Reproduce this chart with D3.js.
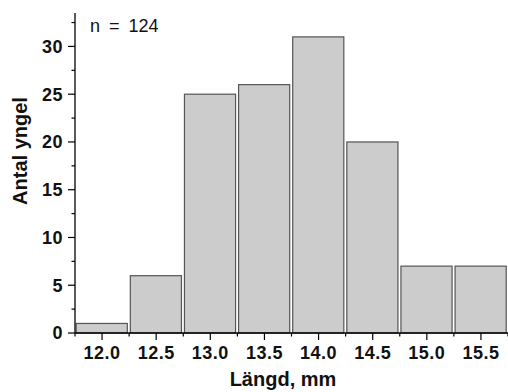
<!DOCTYPE html>
<html>
<head>
<meta charset="utf-8">
<script src="https://cdn.jsdelivr.net/npm/d3@7"></script>
<style>
  html, body { margin: 0; padding: 0; background: #fff; }
  svg { display: block; }
  text { font-family: "Liberation Sans", Arial, sans-serif; }
</style>
</head>
<body>
<svg id="chart" width="508" height="392"></svg>
<script>
// Length classes (mm, bin centres) and number of fry in each class
const lengths = [12.0, 12.5, 13.0, 13.5, 14.0, 14.5, 15.0, 15.5];
const counts  = [1, 6, 25, 26, 31, 20, 7, 7];
const xTickLabels = ["12.0", "12.5", "13.0", "13.5", "14.0", "14.5", "15.0", "15.5"];
const yTickValues = [0, 5, 10, 15, 20, 25, 30];
const sampleLabel = "n = 124";
const xTitle = "Längd, mm";
const yTitle = "Antal yngel";

const binWidth = 0.5;
const svg = d3.select("#chart");

const x = d3.scaleLinear().domain([11.75, 15.75]).range([75, 508]);
const y = d3.scaleLinear().domain([0, 33.5]).range([333, 13]);

const data = lengths.map((l, i) => ({ len: l, n: counts[i] }));

// bars
svg.append("g").selectAll("rect")
  .data(data)
  .join("rect")
  .attr("x", d => x(d.len - binWidth / 2) + 1.2)
  .attr("width", d => x(d.len + binWidth / 2) - x(d.len - binWidth / 2) - 3)
  .attr("y", d => y(d.n))
  .attr("height", d => y(0) - y(d.n))
  .attr("fill", "#cccccc")
  .attr("stroke", "#555555")
  .attr("stroke-width", 1.2);

// y axis with minor ticks
const yAxis = svg.append("g").attr("transform", "translate(75,0)");
yAxis.append("line")
  .attr("x1", 0).attr("x2", 0).attr("y1", y(33.5)).attr("y2", y(0))
  .attr("stroke", "#000").attr("stroke-width", 1.3);
const yMinor = d3.range(2.5, 33.5, 5);
yAxis.selectAll("line.minor").data(yMinor).join("line")
  .attr("class", "minor")
  .attr("x1", -3.5).attr("x2", 0)
  .attr("y1", d => y(d)).attr("y2", d => y(d))
  .attr("stroke", "#000").attr("stroke-width", 1.2);
yAxis.selectAll("line.major").data(yTickValues).join("line")
  .attr("class", "major")
  .attr("x1", -7).attr("x2", 0)
  .attr("y1", d => y(d)).attr("y2", d => y(d))
  .attr("stroke", "#000").attr("stroke-width", 1.2);
yAxis.selectAll("text").data(yTickValues).join("text")
  .attr("x", -12).attr("y", d => y(d)).attr("dy", "0.36em")
  .attr("text-anchor", "end")
  .attr("font-size", 18).attr("font-weight", "bold")
  .attr("letter-spacing", 0.5)
  .attr("fill", "#111")
  .text(d => d);

// x axis: major ticks at class centres, minor ticks at class boundaries
const xAxis = svg.append("g").attr("transform", `translate(0,${y(0)})`);
xAxis.append("line")
  .attr("x1", x(11.75)).attr("x2", x(15.75)).attr("y1", 0).attr("y2", 0)
  .attr("stroke", "#000").attr("stroke-width", 1.3);
const xMinor = d3.range(11.75, 15.76, 0.5);
xAxis.selectAll("line.minor").data(xMinor).join("line")
  .attr("class", "minor")
  .attr("x1", d => x(d)).attr("x2", d => x(d))
  .attr("y1", 0).attr("y2", 3.5)
  .attr("stroke", "#000").attr("stroke-width", 1.2);
xAxis.selectAll("line.major").data(lengths).join("line")
  .attr("class", "major")
  .attr("x1", d => x(d)).attr("x2", d => x(d))
  .attr("y1", 0).attr("y2", 7)
  .attr("stroke", "#000").attr("stroke-width", 1.2);
xAxis.selectAll("text").data(lengths).join("text")
  .attr("x", d => x(d)).attr("y", 26)
  .attr("text-anchor", "middle")
  .attr("font-size", 18).attr("font-weight", "bold")
  .attr("letter-spacing", 0.5)
  .attr("fill", "#111")
  .text((d, i) => xTickLabels[i]);

// axis titles
svg.append("text")
  .attr("x", 283).attr("y", 386)
  .attr("text-anchor", "middle")
  .attr("font-size", 20).attr("font-weight", "bold")
  .attr("fill", "#111")
  .text(xTitle);

svg.append("text")
  .attr("transform", "translate(27,151) rotate(-90)")
  .attr("text-anchor", "middle")
  .attr("font-size", 20).attr("font-weight", "bold")
  .attr("fill", "#111")
  .text(yTitle);

// sample size annotation
svg.append("text")
  .attr("x", 90).attr("y", 32)
  .attr("font-size", 18)
  .attr("word-spacing", 4)
  .attr("fill", "#111")
  .text(sampleLabel);
</script>
</body>
</html>
